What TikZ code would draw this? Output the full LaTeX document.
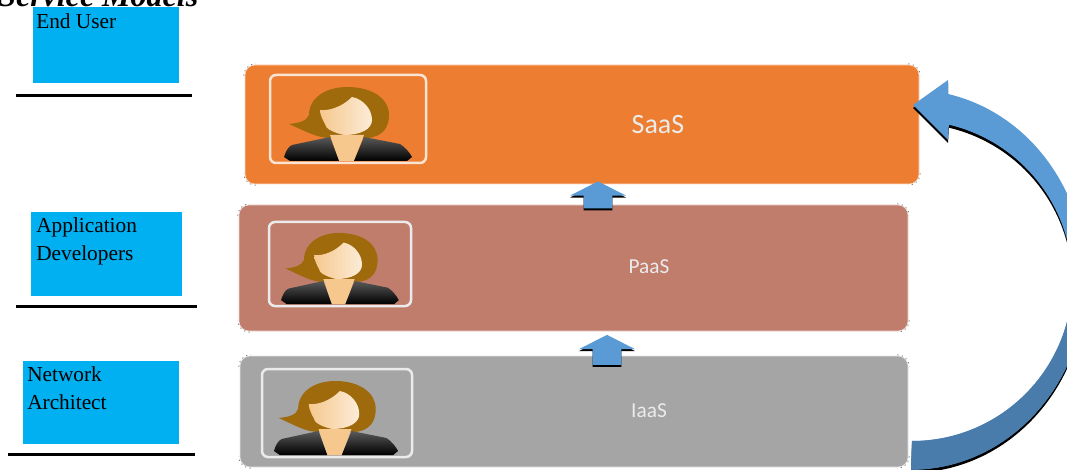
\documentclass[tikz,border=0pt]{standalone}
\usepackage{fontspec}
\setmainfont{Liberation Serif}
\newfontfamily\bandfont{Carlito}
\usepackage{xcolor}
\usetikzlibrary{math}
\usetikzlibrary{shapes.arrows,positioning}
\definecolor{saasfill}{HTML}{ED7D31}
\definecolor{paasfill}{HTML}{C07D6C}
\definecolor{iaasfill}{HTML}{A5A5A5}
\definecolor{rolefill}{HTML}{00B0F0}
\definecolor{arrowfill}{HTML}{5B9BD5}
\definecolor{arrowdark}{HTML}{4A7CAB}
\definecolor{hairfill}{HTML}{9E6A0C}
\definecolor{skinfill}{HTML}{F6C88E}
\newcommand{\returnpath}{(913,105) -- (948,80) -- (948,94)
  arc[start angle=-77.8,end angle=90,x radius=175,y radius=190]
  -- (912,441) arc[start angle=90,end angle=-76.7,radius=160.3]
  -- (948,140) -- cycle}

\begin{document}
\begin{tikzpicture}[x=0.75pt,y=-0.75pt]

\tikzmath{
	\PX = 0.75pt;
}

\tikzset{band/.style n args={3}{
    draw=#3!30!white, fill=#3,
    rounded corners=10*\PX,
    minimum width=#1*\PX,
    minimum height=#2*\PX,
    inner sep=0pt
  },
  bandtext/.style={
    text=white!92!black,
    font=\bandfont\fontsize{#1}{#1}\selectfont
  },
  frame/.style 2 args={
    draw=#2, line width=2.5*\PX,
    rounded corners=6*\PX,
    minimum width=#1*\PX,
    inner sep=0pt
  },
  role/.style 2 args={
    fill=rolefill,
    minimum width=#1*\PX,
    minimum height=#2*\PX,
    inner sep=0pt
  },
  roletext/.style={
    font=\fontsize{16}{21}\selectfont,
    align=left, inner sep=0pt, anchor=north west
  },
  cornerdots/.style={
    black!60, line width=0.6*\PX, dash pattern=on 1pt off 2.5pt
  },
  uparrow/.style={
    single arrow, rotate=90,
    fill=arrowfill,
    minimum height=#1*\PX,
    single arrow head extend=13.5*\PX,
    single arrow tip angle=126,
    inner xsep=0pt, inner ysep=14*\PX
  },
  uparrow/.default=27,
  person/.pic={
    \fill[hairfill] (0,74) .. controls (26,74) and (42,62) .. (42,46)
      .. controls (42,34) and (36,24) .. (20,23)
      -- (-17,23) .. controls (-30,23) and (-42,30) .. (-58,37)
      .. controls (-48,38) and (-40,40) .. (-38,46)
      .. controls (-38,64) and (-20,74) .. cycle;
    \fill[skinfill] (-17,26) -- (17,26) -- (7,0) -- (-8,0) -- cycle;
    \shade[top color=black!65, bottom color=black]
      (-63,4) .. controls (-61,10) and (-59,14) .. (-55,16)
      -- (-17,24) -- (-8,0) -- (-57,0) -- cycle;
    \shade[top color=black!65, bottom color=black]
      (17,24) -- (53,17) .. controls (58,14) and (63,8) .. (65,4)
      -- (60,0) -- (7,0) -- cycle;
    \shade[left color=skinfill, right color=white!65!skinfill]
      (5,64) .. controls (16,62) and (25,52) .. (25,41)
      .. controls (25,32) and (14,26) .. (-3,26)
      .. controls (-12,28) and (-22,32) .. (-22,37)
      .. controls (-26,44) and (-27,48) .. (-27,51)
      .. controls (-18,50) and (-5,54) .. cycle;
  }
}

\useasboundingbox (0,0) rectangle (1067,470);

% title, cut by the page edge
\node[anchor=base west, inner sep=0pt, font=\fontsize{24}{24}\selectfont\bfseries\itshape]
  (title) at (-2,7) {Service Models};

% roles
\node[role={146}{76}] (endUser) at (106,45) {};
\node[role={151}{84}] (appDev) at (106.5,254) {};
\node[role={156}{83}] (netArch) at (101,402.5) {};
\node[roletext] (endUserText) at (36,13) {End User};
\node[roletext] (appDevText) at (36,217) {Application\\Developers};
\node[roletext] (netArchText) at (27,366) {Network\\Architect};
\draw[line width=3*\PX] (16,96) -- (192,96);
\draw[line width=3*\PX] (16,306) -- (197,306);
\draw[line width=3*\PX] (8,454) -- (195,454);

% service layers
\node[band={674}{119}{saasfill}] (saas) at (582,124.5) {};
\node[band={669}{126}{paasfill}] (paas) at (573.5,268) {};
\node[band={668}{111}{iaasfill}] (iaas) at (574,411.5) {};
\node[bandtext=21] (saasText) at (658,125) {SaaS};
\node[bandtext=16] (paasText) at (649,267) {PaaS};
\node[bandtext=16] (iaasText) at (649,411) {IaaS};

\foreach \b in {saas,paas,iaas}{
  \draw[cornerdots] ([shift={(-1,11)}]\b.north west) arc[start angle=180,end angle=270,radius=12];
  \draw[cornerdots] ([shift={(-11,-1)}]\b.north east) arc[start angle=270,end angle=360,radius=12];
  \draw[cornerdots] ([shift={(1,-11)}]\b.south east) arc[start angle=0,end angle=90,radius=12];
  \draw[cornerdots] ([shift={(11,1)}]\b.south west) arc[start angle=90,end angle=180,radius=12];
}

% persons
\node[frame={156}{white!70!saasfill!70!white}, minimum height=88*\PX] (saasFrame) at (348,119) {};
\node[frame={142}{white!92!black}, minimum height=84*\PX] (paasFrame) at (340,264) {};
\node[frame={150}{white!92!black}, minimum height=88*\PX] (iaasFrame) at (337,413) {};
\pic[yscale=-1] at (347,161) {person};
\pic[xscale=.92,yscale=-.96] at (339,304) {person};
\pic[xscale=.97,yscale=-1] at (335,455) {person};

% arrows between layers
\node[uparrow, fill=black] (saasShadow) at (598,200.5) {};
\node[uparrow] (saasArrow) at (598,198.5) {};
\node[uparrow=30, fill=black] (paasShadow) at (607,355.5) {};
\node[uparrow=30] (paasArrow) at (607,353.5) {};

% arrow from bottom layer back to top layer
\fill[black] [shift={(0,3)}] \returnpath;
\fill[arrowfill] \returnpath;
\begin{scope}
  \clip (900,281) rectangle (1110,480);
  \fill[arrowdark] \returnpath;
\end{scope}

\end{tikzpicture}
\end{document}
